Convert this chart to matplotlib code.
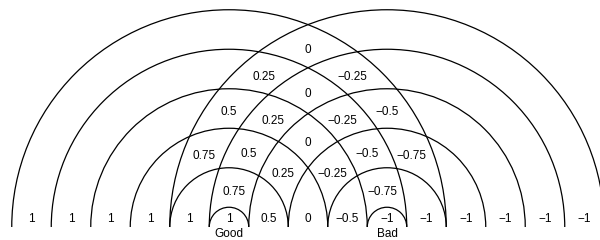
import numpy as np
import matplotlib
matplotlib.use("Agg")
import matplotlib.pyplot as plt
from matplotlib.patches import Arc

plt.rcParams['font.family'] = ['Liberation Sans', 'DejaVu Sans']

# centres of the two ring sets (in ring widths) and their labels
centers = [0, 4]
center_names = ["Good", "Bad"]
radii = [0.5, 1.5, 2.5, 3.5, 4.5, 5.5]

# labels on the baseline, one per ring position
baseline_x = [-5, -4, -3, -2, -1, 0, 1, 2, 3, 4, 5, 6, 7, 8, 9]
baseline_labels = ["1", "1", "1", "1", "1", "1", "0.5", "0", "\u22120.5",
                   "\u22121", "\u22121", "\u22121", "\u22121", "\u22121", "\u22121"]

# labels inside the crossings: ring index around Good, ring index around Bad
good_ring = [5, 4, 5, 4, 3, 5, 3, 4, 3, 2, 5, 2, 4, 2, 3, 1, 4]
bad_ring = [5, 5, 4, 4, 5, 3, 4, 3, 3, 5, 2, 4, 2, 3, 2, 4, 1]
cell_labels = ["0", "0.25", "\u22120.25", "0", "0.5", "\u22120.5", "0.25",
               "\u22120.25", "0", "0.75", "\u22120.75", "0.5", "\u22120.5",
               "0.25", "\u22120.25", "0.75", "\u22120.75"]

px = 39.5  # pixels per ring
fig = plt.figure(figsize=(6, 2.4), dpi=100)
ax = fig.add_axes([0, 0, 1, 1])
ax.set_xlim(-229 / px, 371 / px)
ax.set_ylim(-13 / px, 227 / px)
ax.axis("off")

for c in centers:
    for r in radii:
        ax.add_patch(Arc((c, 0), 2 * r, 2 * r, theta1=0, theta2=180,
                         color="black", lw=0.9))

fs = 8.5
for x, lab in zip(baseline_x, baseline_labels):
    ax.text(x, 0.2, lab, ha="center", va="center", fontsize=fs)

d = centers[1] - centers[0]
for i, j, lab in zip(good_ring, bad_ring, cell_labels):
    x = (i ** 2 - j ** 2 + d ** 2) / (2 * d)
    y = np.sqrt(max(i ** 2 - x ** 2, 0))
    ax.text(centers[0] + x, y - 0.1, lab, ha="center", va="center", fontsize=fs)

for c, name in zip(centers, center_names):
    ax.text(c, -0.18, name, ha="center", va="center", fontsize=fs)

fig.savefig("out.png", dpi=100)
